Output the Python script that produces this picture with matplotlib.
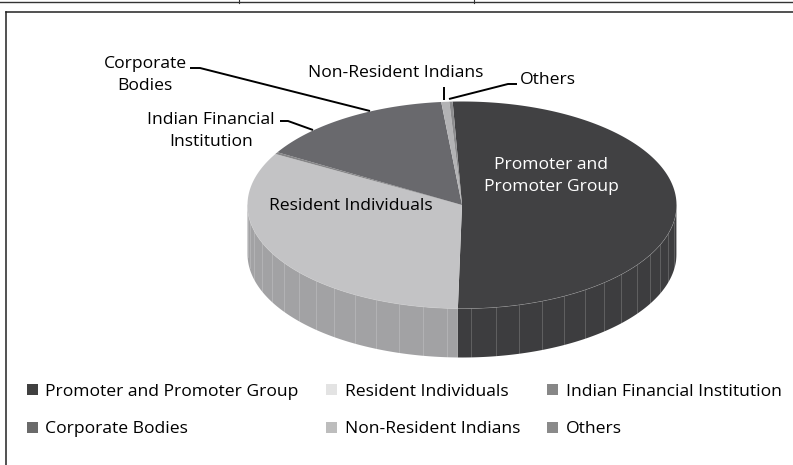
import numpy as np
import matplotlib
matplotlib.use("Agg")
import matplotlib.pyplot as plt
from matplotlib.patches import Polygon, Patch

# ---------------- data ----------------
categories = ["Promoter and Promoter Group", "Resident Individuals",
              "Indian Financial Institution", "Corporate Bodies",
              "Non-Resident Indians", "Others"]
shares = [51.0, 32.9, 0.3, 14.95, 0.6, 0.25]
pie_labels = ["Promoter and\nPromoter Group", "Resident Individuals",
              "Indian Financial\nInstitution", "Corporate\nBodies",
              "Non-Resident Indians", "Others"]

# ---------------- style ----------------
top_colors = ["#414143", "#c3c3c5", "#868688", "#69696d", "#b3b3b5", "#8c8c8e"]
side_colors = ["#3d3d3f", "#a2a2a4", "#6e6e70", "#55555a", "#909092", "#707072"]
legend_colors = ["#404040", "#e3e3e3", "#878787", "#6a6a6a", "#bdbdbd", "#8a8a8a"]
FONT = "Open Sans"
FS = 12.6

W, H = 793, 465
fig = plt.figure(figsize=(W / 100, H / 100), dpi=100)
ax = fig.add_axes([0, 0, 1, 1])
ax.set_xlim(0, W)
ax.set_ylim(H, 0)
ax.axis("off")

# pie geometry (layout)
CX, CY, A, B, DEPTH = 462, 205, 214.5, 103.5, 49
START = -2.5


def edge(theta_deg):
    t = np.radians(theta_deg)
    return CX + A * np.sin(t), CY - B * np.cos(t)


vals = np.array(shares, dtype=float)
bounds = START + 360 * np.concatenate([[0], np.cumsum(vals) / vals.sum()])

# side walls (front half only)
for i in range(len(vals)):
    t0, t1 = bounds[i], bounds[i + 1]
    lo, hi = max(t0, 90), min(t1, 270)
    if hi <= lo:
        continue
    th = np.linspace(lo, hi, 200)
    x, y = edge(th)
    xs = np.concatenate([x, x[::-1]])
    ys = np.concatenate([y, (y + DEPTH)[::-1]])
    ax.add_patch(Polygon(np.column_stack([xs, ys]), closed=True,
                         fc=side_colors[i], ec="none", zorder=1))
    for f in np.arange(90 + 3, 270, 6.5):
        if lo < f < hi:
            fx, fy = edge(f)
            ax.plot([fx, fx], [fy, fy + DEPTH], color="white", lw=0.5,
                    alpha=0.25, zorder=1.5)

# front top rim highlight
th = np.linspace(90, 270, 300)
x, y = edge(th)
ax.plot(x, y, color="#d8d8d8", lw=0.6, alpha=0.6, zorder=1.6)

# top faces
for i in range(len(vals)):
    n = max(3, int(abs(bounds[i + 1] - bounds[i]) * 3))
    th = np.linspace(bounds[i], bounds[i + 1], n)
    x, y = edge(th)
    xs = np.concatenate([[CX], x])
    ys = np.concatenate([[CY], y])
    ax.add_patch(Polygon(np.column_stack([xs, ys]), closed=True,
                         fc=top_colors[i], ec="none", zorder=2))

# labels (layout positions)
label_pos = [(551, 176), (351, 206), (211, 131), (145, 75), (396, 73), (548, 80)]
label_col = ["white", "black", "black", "black", "black", "black"]
for i, (lx, ly) in enumerate(label_pos):
    ax.text(lx, ly, pie_labels[i], ha="center", va="center", fontsize=FS,
            family=FONT, color=label_col[i], linespacing=1.48, zorder=5)

leaders = {
    2: [(280, 121), (288, 121), (313, 130)],
    3: [(190, 68), (200, 68), (370, 111)],
    4: [(444, 87), (444, 100)],
    5: [(517, 84), (508, 84), (449, 99)],
}
for i, pts in leaders.items():
    p = np.array(pts)
    ax.plot(p[:, 0], p[:, 1], color="black", lw=1.4, zorder=4,
            solid_capstyle="butt")

# page decorations: table line at top and chart frame
ax.plot([0, W], [2.5, 2.5], color="#333333", lw=1.0)
ax.plot([239, 239], [0, 3], color="#333333", lw=0.8)
ax.plot([474, 474], [0, 3], color="#333333", lw=0.8)
ax.plot([6, 6], [12, H], color="#222222", lw=1.1)
ax.plot([6, W], [12, 12], color="#222222", lw=1.1)

# legend
order = [0, 3, 1, 4, 2, 5]
handles = [Patch(facecolor=legend_colors[i], edgecolor="none", label=categories[i])
           for i in order]
leg = ax.legend(handles=handles, ncol=3, loc="upper left",
                bbox_to_anchor=(27 / W, 1 - 384 / H), frameon=False,
                prop={"family": FONT, "size": FS}, handlelength=0.6,
                handleheight=0.6, handletextpad=0.45, columnspacing=1.57,
                labelspacing=1.22, borderpad=0, borderaxespad=0)

fig.savefig("out.png", dpi=100)
